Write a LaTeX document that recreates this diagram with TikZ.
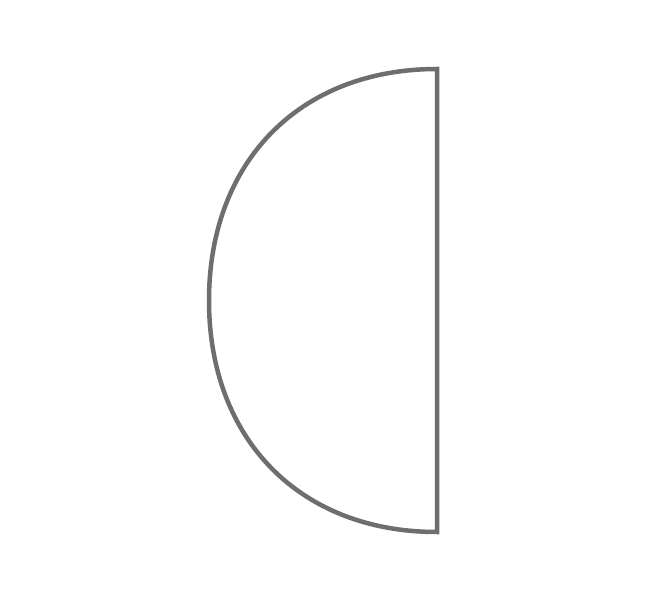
\documentclass[tikz,border=0pt]{standalone}
\usepackage{tikz}
\definecolor{outlinegray}{HTML}{6E6E6E}
\begin{document}
\begin{tikzpicture}[x=1pt, y=1pt]
% Set the page size
\useasboundingbox (0, 0) rectangle (646, 603);

% Corners of the straight side and the far point of the round side
\coordinate (top) at (437, 534);
\coordinate (bottom) at (437, 71);
\coordinate (left) at (209, 302.5);

% Draw the half disc: straight side on the right, round side on the left
\draw[outlinegray, line width=4.5pt, line join=miter] (top)
  .. controls (300, 534) and (209, 441.5) .. (left)
  .. controls (209, 163.5) and (300, 71) .. (bottom)
  -- cycle;
\end{tikzpicture}
\end{document}
